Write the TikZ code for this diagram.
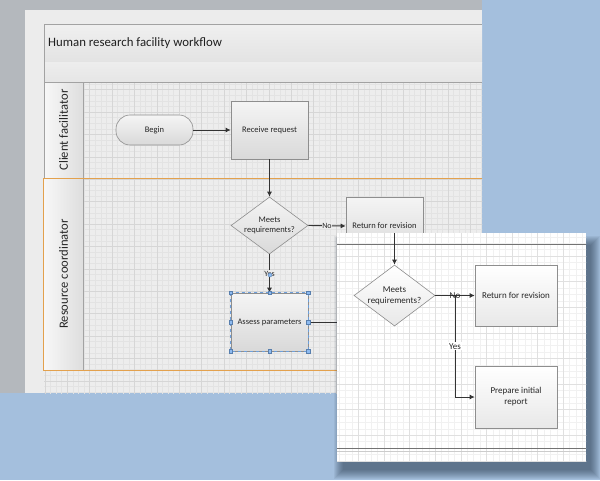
\documentclass[tikz,border=0pt]{standalone}
\usepackage{fontspec}
\setmainfont{Carlito}
\usetikzlibrary{arrows.meta,shapes.geometric}
\definecolor{bgblue}{HTML}{A4BFDD}
\definecolor{bggray}{HTML}{B4B8BD}
\definecolor{pagec}{HTML}{ECECEC}
\definecolor{gridmin}{HTML}{E3E3E3}
\definecolor{gridmaj}{HTML}{D6D6D6}
\definecolor{igridmin}{HTML}{F1F1F1}
\definecolor{igridmaj}{HTML}{E0E0E0}
\definecolor{orangec}{HTML}{E3A14D}
\definecolor{edgec}{HTML}{8E8E8E}
\definecolor{framec}{HTML}{A2A2A2}
\definecolor{linec}{HTML}{333333}
\definecolor{selc}{HTML}{6E9FDA}
\definecolor{handlec}{HTML}{8DBAF0}
\definecolor{txtc}{HTML}{262626}
\definecolor{shadowc}{HTML}{1F2E44}
\tikzset{
  shp/.style={draw=edgec, line width=0.6pt, top color=white!96!black, bottom color=black!15, inner sep=0pt, text=txtc},
  ishp/.style={draw=edgec, line width=0.6pt, top color=white, bottom color=black!9, inner sep=0pt, text=txtc},
  boxm/.style={shp, rectangle, minimum width=77pt, minimum height=58pt, font=\fontsize{8.5}{10}\selectfont},
  boxi/.style={ishp, rectangle, minimum width=82pt, minimum height=61pt, align=center, font=\fontsize{9}{11}\selectfont},
  txt/.style={text=txtc, align=center, inner sep=0pt},
  arr/.style={draw=linec, line width=0.9pt, -{Latex[length=5pt,width=5pt]}},
  cline/.style={draw=linec, line width=0.9pt},
  lanelbl/.style={rotate=90, text=black!85, font=\fontsize{12.6}{14}\selectfont},
  handle/.style={draw=selc!80!black, fill=handlec, line width=0.4pt, minimum size=3.6pt, inner sep=0pt, rectangle},
  frame/.style={draw=framec, line width=0.6pt}
}
\begin{document}
\begin{tikzpicture}[x=1pt,y=-1pt]
\useasboundingbox (0,0) rectangle (600,480);
% backgrounds
\fill[bgblue] (0,0) rectangle (600,480);
\fill[bggray] (0,0) rectangle (482,393);
\fill[pagec] (25,10) rectangle (482,393);
% grid on main page
\begin{scope}
  \clip (44,82) rectangle (482,393);
  \fill[pagec!96!white] (44,82) rectangle (482,393);
  \draw[gridmin, line width=0.35pt, step=5.6pt] (33.6,72.8) grid (492.8,400);
  \draw[gridmaj, line width=0.5pt, step=22.4pt] (33.6,72.8) grid (492.8,400);
\end{scope}
% title and strip
\shade[top color=white!94!black, bottom color=black!11] (44,24) rectangle (482,62);
\draw[frame] (482,24) -- (44,24) -- (44,62) -- (482,62);
\shade[top color=white!93!black, bottom color=black!10] (44,62) rectangle (482,82);
\draw[frame] (44,62) -- (44,82) -- (482,82);
\node[anchor=west, text=black!88, font=\fontsize{12.8}{15}\selectfont, inner sep=0pt] (title) at (48,43) {Human research facility workflow};
% lane label columns
\shade[left color=white!97!black, right color=black!13] (44,82) rectangle (83,178);
\shade[left color=white!97!black, right color=black!13] (44,178) rectangle (83,370);
\draw[frame] (44,82) rectangle (83,178);
\draw[frame] (83,178) -- (83,370);
\node[lanelbl] (lane1) at (63.5,130) {Client facilitator};
\node[lanelbl] (lane2) at (63.5,274) {Resource coordinator};
% selected lane border
\draw[orangec, line width=1pt] (482,178) -- (43.5,178) -- (43.5,370) -- (482,370);
% main shapes
\node[shp, rectangle, rounded corners=14pt, minimum width=77pt, minimum height=30pt, font=\fontsize{8.5}{10}\selectfont] (begin) at (154.5,130) {Begin};
\node[boxm] (recv) at (269.5,130) {Receive request};
\node[shp, diamond, minimum width=77pt, minimum height=57pt] (dec1) at (269.5,225.5) {};
\node[txt, font=\fontsize{8.5}{10}\selectfont] (dec1t) at (269.5,225.5) {Meets\\requirements?};
\node[boxm] (ret1) at (384.5,226) {Return for revision};
\node[boxm] (assess) at (269.5,322) {Assess parameters};
\coordinate (aout) at (350,322);
% main connectors
\draw[arr] (begin.east) -- (recv.west);
\draw[arr] (recv.south) -- (dec1.north);
\draw[arr] (dec1.east) -- node[fill=pagec, inner sep=0.6pt, text=txtc, font=\fontsize{8}{9}\selectfont] (nolbl1) {No} (ret1.west);
\draw[arr] (dec1.south) -- node[fill=pagec, inner sep=0.6pt, text=txtc, font=\fontsize{8}{9}\selectfont] (yeslbl1) {Yes} (assess.north);
\draw[cline] (assess.east) -- (aout);
% selection
\draw[selc, line width=0.5pt, dashed] (assess.north west) rectangle (assess.south east);
\foreach \p in {north west,north,north east,west,east,south west,south,south east}
  \node[handle] at (assess.\p) {};
\node[draw=selc!80!black, fill=handlec, circle, minimum size=4pt, inner sep=0pt, line width=0.4pt] (yh) at (270,275) {};
% inset shadow
\foreach \i in {0,...,9}
  \fill[shadowc, opacity=0.065] (334+\i,236+\i) rectangle (600-\i,479-\i);
% inset
\fill[white] (337,233) rectangle (586,461);
\begin{scope}
  \clip (337,233) rectangle (586,461);
  \draw[igridmin, line width=0.35pt, step=6.4pt] (332.8,230.4) grid (588.8,467.2);
  \draw[igridmaj, line width=0.5pt, step=25.6pt] (332.8,230.4) grid (588.8,467.2);
\end{scope}
\draw[black!55, line width=0.7pt] (337,244) -- (586,244);
\draw[black!55, line width=0.7pt] (337,448) -- (586,448);
\draw[black!20, line width=0.5pt] (337,451) -- (586,451);
\coordinate (itop) at (394.5,233);
\node[ishp, diamond, minimum width=81pt, minimum height=61pt] (dec2) at (394.5,295.5) {};
\node[txt, font=\fontsize{9}{11}\selectfont] (dec2t) at (394.5,295.5) {Meets\\requirements?};
\node[boxi] (ret2) at (516,295.5) {Return for revision};
\node[boxi, minimum height=62pt] (prep) at (516,397) {Prepare initial\\report};
\coordinate (split) at (455,295.5);
\draw[arr] (itop) -- (dec2.north);
\draw[arr] (dec2.east) -- (ret2.west);
\draw[arr] (split) |- node[pos=0.25, fill=white, inner sep=1pt, text=txtc, font=\fontsize{9}{10}\selectfont] (yeslbl2) {Yes} (prep.west);
\node[text=txtc, font=\fontsize{9}{10}\selectfont, inner sep=0pt] (nolbl2) at (455,296) {No};
\end{tikzpicture}
\end{document}
